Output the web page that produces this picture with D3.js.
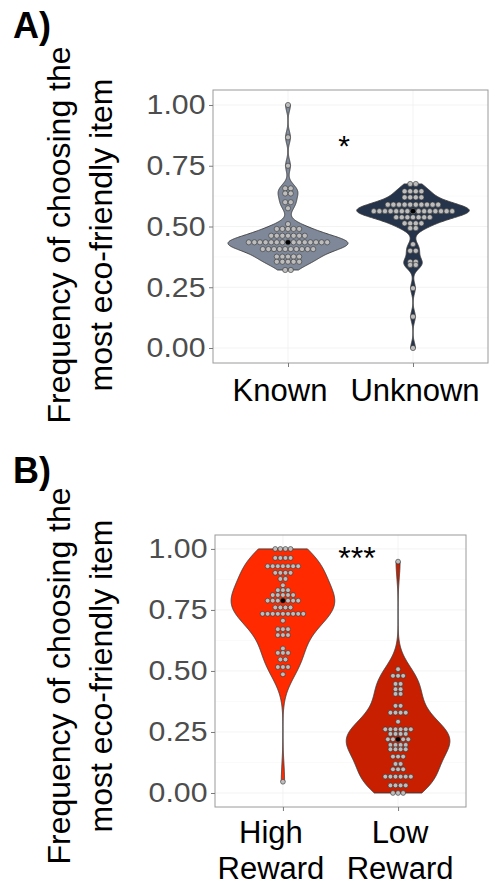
<!DOCTYPE html>
<html><head><meta charset="utf-8">
<script src="https://cdn.jsdelivr.net/npm/d3@7"></script>
<style>body{margin:0;background:#fff}svg{display:block}</style></head>
<body>
<svg id="c" width="502" height="886"></svg>
<script>
// ---------- DATA ----------
const categoriesA = ["Known", "Unknown"];
const categoriesB = ["High Reward", "Low Reward"];
const yTicks = [0, 0.25, 0.5, 0.75, 1.0];

// dot rows: value of each stacked row and number of dots in it
const knownRowValues = [1.00, 0.867, 0.75, 0.657, 0.636, 0.60, 0.575, 0.51, 0.49, 0.462, 0.435, 0.407, 0.376, 0.355, 0.321];
const knownRowCounts = [1, 1, 1, 2, 2, 2, 1, 1, 5, 7, 15, 10, 5, 5, 2];

const unknownRowValues = [0.675, 0.645, 0.62, 0.59, 0.563, 0.538, 0.513, 0.493, 0.427, 0.40, 0.355, 0.342, 0.246, 0.129, 0.0];
const unknownRowCounts = [2, 4, 4, 10, 15, 7, 4, 2, 1, 2, 2, 2, 1, 1, 1];

const highRowValues = [1.00, 0.963, 0.929, 0.902, 0.877, 0.851, 0.831, 0.811, 0.788, 0.760, 0.734, 0.706, 0.671, 0.647, 0.592, 0.574, 0.547, 0.516, 0.486, 0.046];
const highRowCounts = [4, 4, 7, 4, 2, 1, 3, 5, 7, 4, 9, 1, 3, 3, 1, 3, 2, 3, 1, 1];

const lowRowValues = [0.948, 0.507, 0.480, 0.447, 0.425, 0.406, 0.357, 0.329, 0.292, 0.261, 0.242, 0.220, 0.197, 0.179, 0.149, 0.119, 0.097, 0.067, 0.031, 0.0];
const lowRowCounts = [1, 1, 3, 2, 2, 2, 2, 4, 1, 6, 4, 5, 4, 4, 3, 2, 3, 6, 4, 3];

const significanceA = "*";
const significanceB = "***";

// ---------- HELPERS ----------
const svg = d3.select("#c");
const FONT = "'Liberation Sans', Arial, Helvetica, sans-serif";

function expand(vals, counts) {
  const out = [];
  vals.forEach((v, i) => { for (let k = 0; k < counts[i]; k++) out.push(v); });
  return out.sort(d3.ascending);
}
function kde(data, adjust) {
  const n = data.length;
  const sd = d3.deviation(data);
  const iqr = d3.quantile(data, 0.75) - d3.quantile(data, 0.25);
  const bw = adjust * 0.9 * Math.min(sd, iqr / 1.34) * Math.pow(n, -0.2);
  const lo = d3.min(data), hi = d3.max(data);
  const pts = d3.range(0, 401).map(i => lo + (hi - lo) * i / 400);
  return pts.map(t => {
    let s = 0;
    for (const v of data) { const u = (t - v) / bw; s += Math.exp(-0.5 * u * u); }
    return [t, s / (n * bw * Math.sqrt(2 * Math.PI))];
  });
}

function panel(cfg) {
  const g = svg.append("g");
  const { left, right, top, bottom } = cfg.rect;
  const y = d3.scaleLinear().domain(cfg.yDomain).range([bottom, top]);
  const x = d3.scalePoint().domain(cfg.categories).range([left, right]).padding(cfg.pad);

  g.append("rect").attr("x", left).attr("y", top).attr("width", right - left).attr("height", bottom - top).attr("fill", "#fff");
  // grid
  const minor = d3.range(0.125, 1, 0.25);
  g.selectAll(".gmin").data(minor).join("line")
    .attr("x1", left).attr("x2", right).attr("y1", d => y(d)).attr("y2", d => y(d))
    .attr("stroke", "#f5f5f5").attr("stroke-width", 0.5);
  g.selectAll(".gmaj").data(yTicks).join("line")
    .attr("x1", left).attr("x2", right).attr("y1", d => y(d)).attr("y2", d => y(d))
    .attr("stroke", "#f0f0f0").attr("stroke-width", 0.8);
  g.selectAll(".gx").data(cfg.categories).join("line")
    .attr("x1", d => x(d)).attr("x2", d => x(d)).attr("y1", top).attr("y2", bottom)
    .attr("stroke", "#f0f0f0").attr("stroke-width", 0.8);

  cfg.groups.forEach((grp, gi) => {
    const cx = x(cfg.categories[gi]);
    const halfMax = x.step() * grp.width / 2;
    const data = expand(grp.values, grp.counts);
    const dens = kde(data, grp.adjust);
    const dmax = d3.max(dens, d => d[1]);
    const area = d3.area()
      .y(d => y(d[0]))
      .x0(d => cx - d[1] / dmax * halfMax)
      .x1(d => cx + d[1] / dmax * halfMax);
    g.append("path").datum(dens).attr("d", area)
      .attr("fill", grp.fill).attr("stroke", "#3a3a3a").attr("stroke-width", 0.9);
    // dots
    const dots = [];
    grp.values.forEach((v, i) => {
      const c = grp.counts[i];
      for (let k = 0; k < c; k++) dots.push({ v, off: (k - (c - 1) / 2) * cfg.dotStep });
    });
    g.selectAll(null).data(dots).join("circle")
      .attr("cx", d => cx + d.off).attr("cy", d => y(d.v)).attr("r", cfg.dotR)
      .attr("fill", "#bdbdbd").attr("stroke", "#333").attr("stroke-width", 0.6);
    g.append("circle").attr("cx", cx).attr("cy", y(d3.median(data))).attr("r", 2.4).attr("fill", "#000");
  });

  // border
  g.append("rect").attr("x", left).attr("y", top).attr("width", right - left).attr("height", bottom - top)
    .attr("fill", "none").attr("stroke", "#9a9a9a").attr("stroke-width", 1);

  // y axis
  const ya = g.append("g").attr("transform", `translate(${left},0)`)
    .call(d3.axisLeft(y).tickValues(yTicks).tickFormat(d3.format(".2f")).tickSize(4).tickPadding(3));
  ya.select(".domain").remove();
  ya.selectAll("line").attr("stroke", "#7a7a7a");
  ya.selectAll("text").attr("font-family", FONT).attr("font-size", 28).attr("fill", "#4d4d4d")
    .attr("transform", "scale(1.08,1)");

  // x axis
  const xa = g.append("g").attr("transform", `translate(0,${bottom})`)
    .call(d3.axisBottom(x).tickSize(4).tickFormat(""));
  xa.select(".domain").remove();
  xa.selectAll("line").attr("stroke", "#7a7a7a");
  cfg.categories.forEach((c, i) => {
    const lines = cfg.xLabelLines[i];
    const t = g.append("text").attr("font-family", FONT).attr("font-size", cfg.xFont)
      .attr("fill", "#000").attr("text-anchor", "middle");
    lines.forEach((ln, j) => {
      t.append("tspan").attr("x", x(c) + cfg.xLabelShift[i]).attr("y", cfg.xLabelY + j * cfg.xLineH).text(ln);
    });
  });

  // y title
  const yt = g.append("text").attr("font-family", FONT).attr("font-size", 32).attr("fill", "#000")
    .attr("text-anchor", "middle");
  cfg.yTitle.forEach((ln, j) => {
    yt.append("tspan").attr("x", 0).attr("y", j * 42).text(ln);
  });
  yt.attr("transform", `translate(70,${cfg.yTitleCenter}) rotate(-90)`);

  // significance
  g.append("text").attr("font-family", FONT).attr("font-size", cfg.sigFont).attr("fill", "#000")
    .attr("text-anchor", "middle").attr("x", cfg.sigX).attr("y", cfg.sigY).text(cfg.sig);

  // panel tag
  g.append("text").attr("font-family", FONT).attr("font-weight", "bold").attr("font-size", 36)
    .attr("x", 13).attr("y", cfg.tagY).text(cfg.tag);
}

panel({
  tag: "A)", tagY: 38,
  rect: { left: 213, right: 488, top: 90, bottom: 363 },
  yDomain: [-0.0617, 1.0617],
  categories: categoriesA, pad: 0.6,
  groups: [
    { values: knownRowValues, counts: knownRowCounts, fill: "#7e8898", width: 0.96, adjust: 1 },
    { values: unknownRowValues, counts: unknownRowCounts, fill: "#25344a", width: 0.9, adjust: 1 }
  ],
  dotR: 2.6, dotStep: 5.6,
  xLabelLines: [["Known"], ["Unknown"]], xLabelShift: [-8, 2], xLabelY: 401, xLineH: 36, xFont: 31,
  yTitle: ["Frequency of choosing the", "most eco-friendly item"], yTitleCenter: 235,
  sig: significanceA, sigX: 344, sigY: 156, sigFont: 30
});

panel({
  tag: "B)", tagY: 483,
  rect: { left: 215, right: 466, top: 535, bottom: 807 },
  yDomain: [-0.0574, 1.057],
  categories: categoriesB, pad: 0.59,
  groups: [
    { values: highRowValues, counts: highRowCounts, fill: "#ff2a00", width: 0.9, adjust: 1.25 },
    { values: lowRowValues, counts: lowRowCounts, fill: "#c81f00", width: 0.9, adjust: 1 }
  ],
  dotR: 2.4, dotStep: 5.1,
  xLabelLines: [["High", "Reward"], ["Low", "Reward"]], xLabelShift: [-12, 2], xLabelY: 843, xLineH: 36, xFont: 31,
  yTitle: ["Frequency of choosing the", "most eco-friendly item"], yTitleCenter: 676,
  sig: significanceB, sigX: 357, sigY: 569, sigFont: 32
});
</script>
</body></html>
